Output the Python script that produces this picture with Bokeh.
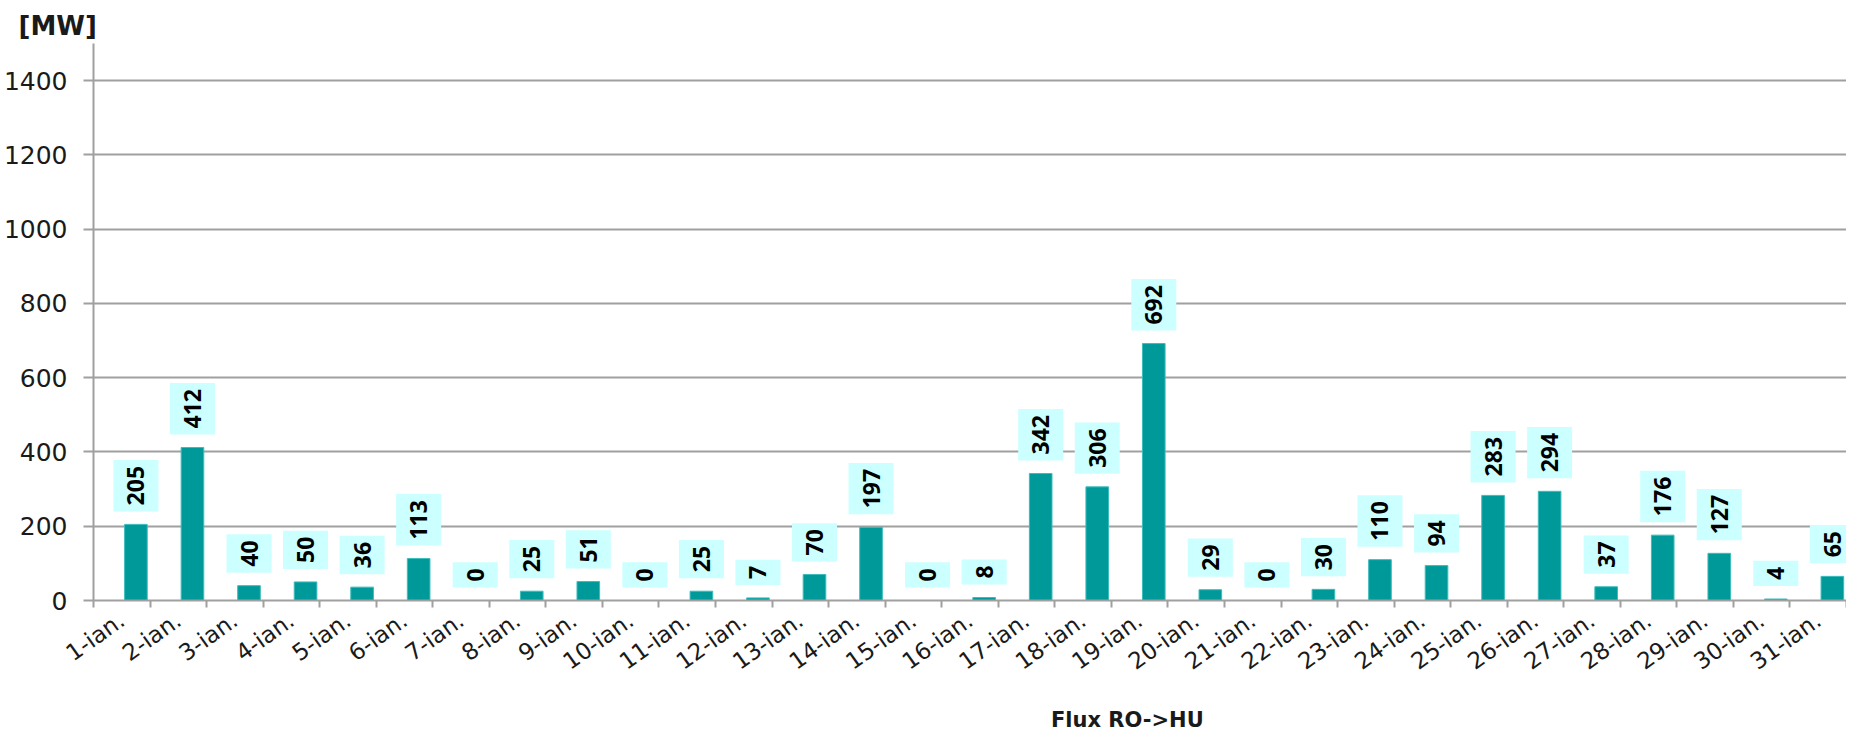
import numpy as np
from bokeh.plotting import figure
from bokeh.layouts import column
from bokeh.models import (ColumnDataSource, FixedTicker, Legend, LegendItem, Range1d)
from bokeh.core.properties import value
from bokeh.embed import file_html
from bokeh.resources import INLINE

# ---- data ----
days = ["1-ian.", "2-ian.", "3-ian.", "4-ian.", "5-ian.", "6-ian.", "7-ian.", "8-ian.",
        "9-ian.", "10-ian.", "11-ian.", "12-ian.", "13-ian.", "14-ian.", "15-ian.", "16-ian.",
        "17-ian.", "18-ian.", "19-ian.", "20-ian.", "21-ian.", "22-ian.", "23-ian.", "24-ian.",
        "25-ian.", "26-ian.", "27-ian.", "28-ian.", "29-ian.", "30-ian.", "31-ian."]
flux_ro_hu = [205, 412, 40, 50, 36, 113, 0, 25, 51, 0, 25, 7, 70, 197, 0, 8,
              342, 306, 692, 29, 0, 30, 110, 94, 283, 294, 37, 176, 127, 4, 65]
y_ticks = [0, 200, 400, 600, 800, 1000, 1200, 1400]
series_name = "Flux RO->HU"
unit_label = "[MW]"

n = len(days)
idx = np.arange(n)
centers = idx + 0.5
bar_x = idx + 0.75

GRAY = "#a0a0a0"
TEAL = "#009999"
BAR_EDGE = "#3cbcbc"

p = figure(width=1846, height=702, output_backend="svg", toolbar_location=None,
           x_range=Range1d(0, n), y_range=Range1d(0, 1500),
           min_border_left=91, min_border_right=0, min_border_top=43, min_border_bottom=102)
p.outline_line_color = None
p.background_fill_color = "white"
p.border_fill_color = "white"

src = ColumnDataSource(dict(x=bar_x, top=flux_ro_hu, text=[str(v) for v in flux_ro_hu]))
r = p.vbar(x="x", top="top", width=0.40, bottom=0, source=src,
           fill_color=TEAL, line_color=BAR_EDGE, line_width=1)

p.text(x="x", y="top", text="text", source=src, angle=np.pi / 2,
       text_align="left", text_baseline="middle", y_offset=-13,
       text_font=value("Open Sans"), text_font_style="bold", text_font_size="23px",
       text_color="black", background_fill_color="#ccffff",
       padding=dict(left=6, right=6, top=14, bottom=14))

# grid
p.xgrid.grid_line_color = None
p.ygrid.grid_line_color = GRAY
p.ygrid.grid_line_width = 2
p.ygrid.ticker = FixedTicker(ticks=y_ticks)

# y axis
p.yaxis.ticker = FixedTicker(ticks=y_ticks)
p.yaxis.axis_line_color = GRAY
p.yaxis.axis_line_width = 2
p.yaxis.major_tick_line_color = GRAY
p.yaxis.major_tick_line_width = 2
p.yaxis.major_tick_out = 10
p.yaxis.major_tick_in = 0
p.yaxis.minor_tick_line_color = None
p.yaxis.major_label_standoff = 16
p.yaxis.major_label_text_font = "DejaVu Sans"
p.yaxis.major_label_text_font_size = "25px"
p.yaxis.major_label_text_color = "#1a1a1a"

# x axis
p.xaxis.ticker = FixedTicker(ticks=list(centers), minor_ticks=list(np.arange(n + 1)))
p.xaxis.major_label_overrides = {float(c): d for c, d in zip(centers, days)}
p.xaxis.axis_line_color = GRAY
p.xaxis.axis_line_width = 2
p.xaxis.major_tick_line_color = None
p.xaxis.major_tick_out = 0
p.xaxis.major_tick_in = 0
p.xaxis.minor_tick_line_color = GRAY
p.xaxis.minor_tick_line_width = 2
p.xaxis.minor_tick_out = 7
p.xaxis.minor_tick_in = 0
p.xaxis.major_label_orientation = 0.62
p.xaxis.major_label_standoff = 10
p.xaxis.major_label_text_font = "DejaVu Sans"
p.xaxis.major_label_text_font_size = "23px"
p.xaxis.major_label_text_color = "#1a1a1a"

# title
p.title.text = unit_label
p.title.align = "left"
p.title.offset = -75
p.title.text_font = "DejaVu Sans"
p.title.text_font_style = "bold"
p.title.text_font_size = "26px"
p.title.text_color = "#1a1a1a"
p.title.standoff = 6

# legend strip below the chart
leg_fig = figure(width=1846, height=30, output_backend="svg", toolbar_location=None,
                 x_range=Range1d(0, 1), y_range=Range1d(0, 1),
                 min_border_left=0, min_border_right=0, min_border_top=0, min_border_bottom=0)
leg_fig.axis.visible = False
leg_fig.grid.visible = False
leg_fig.outline_line_color = None
leg_fig.background_fill_color = "white"
leg_fig.border_fill_color = "white"
leg_src = ColumnDataSource(dict(x=[], top=[]))
leg_r = leg_fig.vbar(x="x", top="top", width=0.4, source=leg_src,
                     fill_color=TEAL, line_color=BAR_EDGE, line_width=1)

legend = Legend(items=[LegendItem(label=series_name, renderers=[leg_r])],
                location=(933, 0), orientation="horizontal",
                border_line_color=None, background_fill_alpha=0, padding=0, margin=0,
                glyph_width=15, glyph_height=15, label_standoff=10,
                label_text_font="DejaVu Sans", label_text_font_style="bold",
                label_text_font_size="21px", label_text_color="#1a1a1a")
leg_fig.add_layout(legend, "center")

layout = column(p, leg_fig, spacing=0)

open("out.html", "w").write(file_html(layout, INLINE))
